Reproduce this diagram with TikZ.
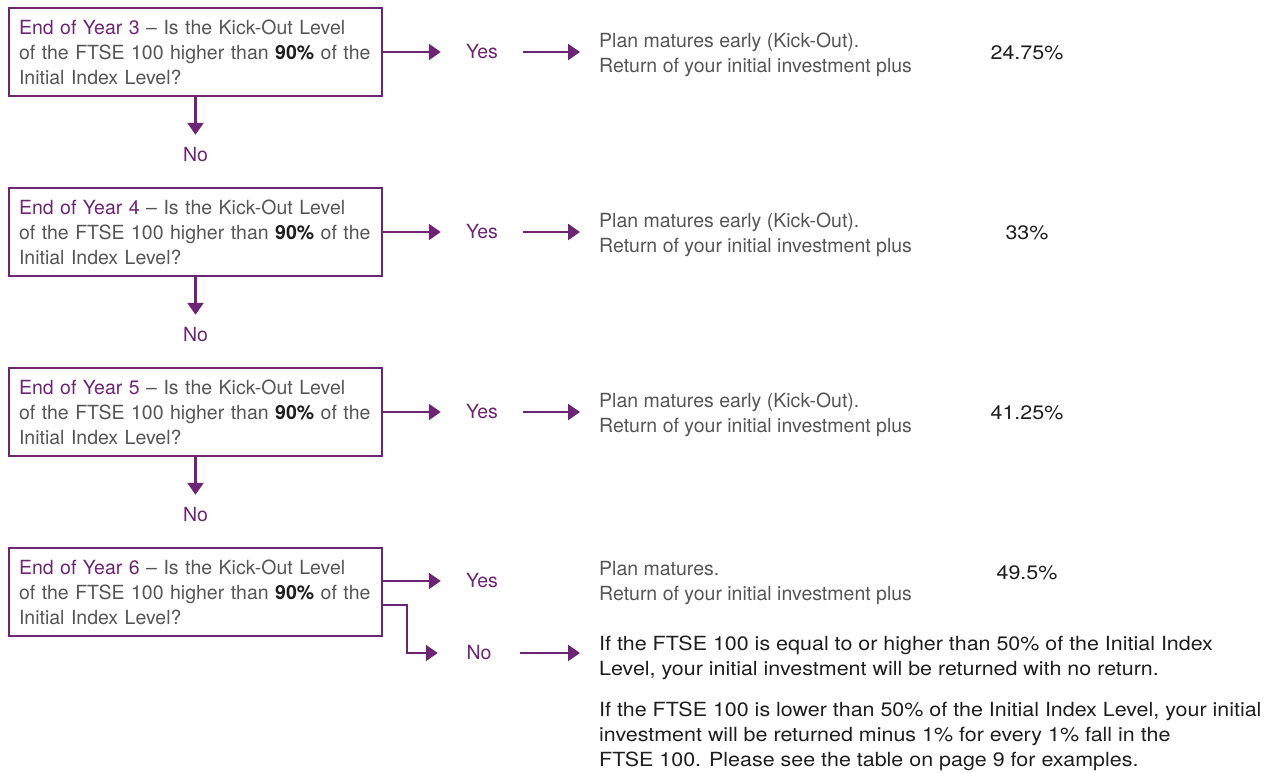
\documentclass[tikz,border=0pt]{standalone}
\usepackage{fontspec}
\setmainfont{TeX Gyre Heros}
\newfontfamily\widefont[FakeStretch=1.10]{TeX Gyre Heros}
\usetikzlibrary{positioning,arrows.meta}
\definecolor{plum}{HTML}{6E2474}
\definecolor{greytext}{HTML}{555555}
\definecolor{darktext}{HTML}{1E1E1E}
\begin{document}
\begin{tikzpicture}[x=1pt,y=-1pt,
  question/.style={draw=plum, line width=2pt, minimum width=373pt, minimum height=88pt, text width=353pt, align=left, inner xsep=10pt, text=greytext, font=\fontsize{19.5}{25}\selectfont},
  answer/.style={text=plum, minimum width=82pt, font=\fontsize{19.5}{25}\selectfont},
  result/.style={anchor=west, inner xsep=19pt, align=left, text=greytext, font=\fontsize{19.5}{25}\selectfont},
  rate/.style={text=darktext, font=\widefont\fontsize{19.5}{25}\selectfont},
  arr/.style={draw=plum, line width=2.5pt, -{Triangle[length=12pt,width=16pt]}}]
\useasboundingbox (0,0) rectangle (1271,772);
% years 3 to 5
\foreach \yr/\ypos/\pct in {3/52/24.75\%, 4/232/33\%, 5/412/41.25\%}{
  \node[question] (q\yr) at (195.5,\ypos) {\textcolor{plum}{End of Year \yr} -- Is the Kick-Out Level\\ of the FTSE 100 higher than \textbf{\textcolor{darktext}{90\%}} of the\\ Initial Index Level?};
  \node[answer] (y\yr) at (482,\ypos) {Yes};
  \node[result] (r\yr) at (580,\ypos+3) {Plan matures early (Kick-Out).\\ Return of your initial investment plus};
  \node[rate] (p\yr) at (1027,\ypos+1) {\pct};
  \node[answer, minimum height=40pt] (n\yr) at (195.5,\ypos+103) {No};
  \draw[arr] (q\yr) -- (y\yr);
  \draw[arr] (y\yr.east) -- (y\yr.east -| r\yr.west);
  \draw[arr] (q\yr.south) -- (n\yr.north);
}
% year 6
\node[question] (q6) at (195.5,592) {\textcolor{plum}{End of Year 6} -- Is the Kick-Out Level\\ of the FTSE 100 higher than \textbf{\textcolor{darktext}{90\%}} of the\\ Initial Index Level?};
\node[answer] (y6) at (482,581) {Yes};
\node[result] (r6) at (580,583) {Plan matures.\\ Return of your initial investment plus};
\node[rate] (p6) at (1027,573) {49.5\%};
\node[answer] (n6) at (479,653) {No};
\node[result, anchor=north west, text=darktext, font=\widefont\fontsize{19.5}{25}\selectfont] (r6n) at (580,632) {If the FTSE 100 is equal to or higher than 50\% of the Initial Index\\ Level, your initial investment will be returned with no return.\\[16pt] If the FTSE 100 is lower than 50\% of the Initial Index Level, your initial\\ investment will be returned minus 1\% for every 1\% fall in the\\ FTSE 100. Please see the table on page 9 for examples.};
\draw[arr] (q6.east |- y6) -- (y6);
\draw[arr] ([yshift=-13pt]q6.east) -- ++(24,0) |- (n6.west);
\draw[arr] (n6.east) -- (n6.east -| r6n.west);
\end{tikzpicture}
\end{document}
